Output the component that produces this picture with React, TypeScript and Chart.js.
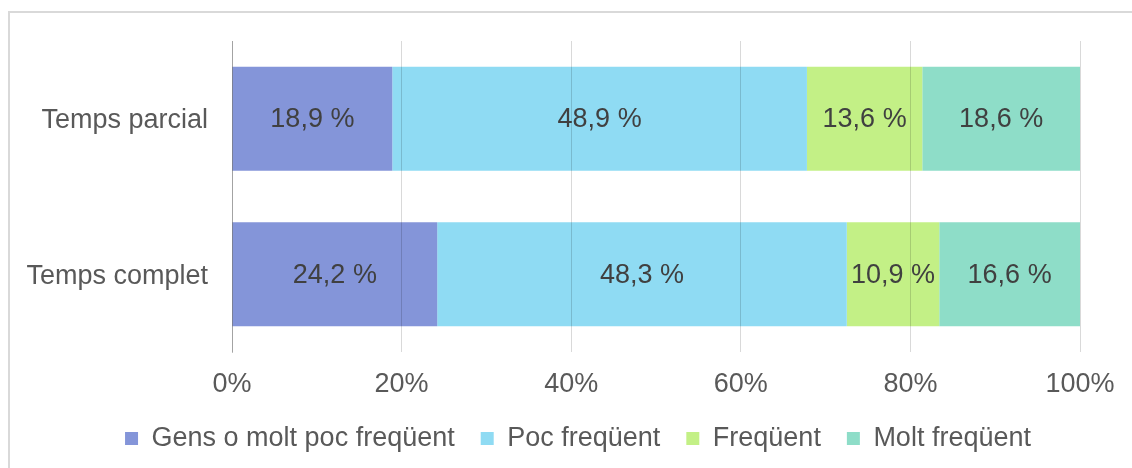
import React, { useEffect, useRef } from "react";
import { Chart, registerables } from "chart.js";

Chart.register(...registerables);

const categories = ["Temps parcial", "Temps complet"];
const seriesNames = ["Gens o molt poc freqüent", "Poc freqüent", "Freqüent", "Molt freqüent"];
const seriesColors = ["#8495d9", "#8fdbf3", "#c3f086", "#8eddc8"];
const gensPoc = [18.9, 24.2];
const poc = [48.9, 48.3];
const frequent = [13.6, 10.9];
const moltFrequent = [18.6, 16.6];
const xTicks = [0, 20, 40, 60, 80, 100];

const FONT = '"Liberation Sans", Arial, sans-serif';
const FONT_SIZE = 27;

const fmt = (v: number) => v.toFixed(1).replace(".", ",") + " %";

// Writes each segment's value in the middle of its bar
const barLabels = {
  id: "barLabels",
  afterDatasetsDraw(chart: any) {
    const ctx = chart.ctx;
    ctx.save();
    ctx.font = `${FONT_SIZE}px ${FONT}`;
    ctx.fillStyle = "#404040";
    ctx.textAlign = "center";
    ctx.textBaseline = "middle";
    chart.data.datasets.forEach((ds: any, i: number) => {
      chart.getDatasetMeta(i).data.forEach((bar: any, j: number) => {
        const { x, y, base } = bar.getProps(["x", "y", "base"], true);
        ctx.fillText(fmt(ds.data[j]), (x + base) / 2, y + 1);
      });
    });
    ctx.restore();
  },
};

// Centres the legend under the whole frame rather than under the plot
const legendOffset = {
  id: "legendOffset",
  afterLayout(chart: any) {
    if (chart.legend) {
      chart.legend.left += 76;
      chart.legend.top += 2;
    }
  },
};

export default function App() {
  const canvasRef = useRef<HTMLCanvasElement | null>(null);

  useEffect(() => {
    if (!canvasRef.current) return;
    const values = [gensPoc, poc, frequent, moltFrequent];
    const chart = new Chart(canvasRef.current, {
      type: "bar",
      data: {
        labels: categories,
        datasets: seriesNames.map((name, i) => ({
          label: name,
          data: values[i],
          backgroundColor: seriesColors[i],
          borderWidth: 0,
          categoryPercentage: 1,
          barPercentage: 0.67,
        })),
      },
      options: {
        indexAxis: "y",
        responsive: false,
        animation: false,
        layout: { padding: { left: 0, right: 52, top: 41, bottom: 8 } },
        scales: {
          x: {
            stacked: true,
            min: 0,
            max: 100,
            afterBuildTicks: (scale: any) => {
              scale.ticks = xTicks.map((v) => ({ value: v }));
            },
            afterFit: (scale: any) => {
              scale.height = 45;
            },
            grid: {
              color: "rgba(0,0,0,0.15)",
              lineWidth: 1,
              drawTicks: false,
              z: 1,
            },
            border: { display: false },
            ticks: {
              padding: 16,
              color: "#595959",
              font: { family: FONT, size: FONT_SIZE },
              callback: (v: any) => v + "%",
            },
          },
          y: {
            stacked: true,
            afterFit: (scale: any) => {
              scale.width = 232;
            },
            grid: { display: false, drawTicks: false },
            border: { display: true, color: "rgba(0,0,0,0.25)", width: 1, z: 1 },
            ticks: {
              padding: 24,
              labelOffset: 2,
              color: "#595959",
              font: { family: FONT, size: FONT_SIZE },
            },
          },
        },
        plugins: {
          legend: {
            position: "bottom",
            labels: {
              boxWidth: 13,
              boxHeight: 13,
              padding: 26,
              color: "#595959",
              font: { family: FONT, size: FONT_SIZE },
            },
          },
          tooltip: { enabled: false },
        },
      },
      plugins: [barLabels, legendOffset],
    } as any);
    return () => chart.destroy();
  }, []);

  return (
    <div
      style={{
        position: "fixed",
        left: 0,
        top: 0,
        width: 1132,
        height: 468,
        overflow: "hidden",
        background: "#ffffff",
      }}
    >
      <div
        style={{
          position: "absolute",
          left: 8,
          top: 11,
          width: 1124,
          height: 457,
          borderTop: "2px solid #d9d9d9",
          borderLeft: "2px solid #d9d9d9",
          boxSizing: "border-box",
        }}
      />
      <canvas
        ref={canvasRef}
        width={1132}
        height={468}
        style={{ position: "absolute", left: 0, top: 0 }}
      />
    </div>
  );
}
